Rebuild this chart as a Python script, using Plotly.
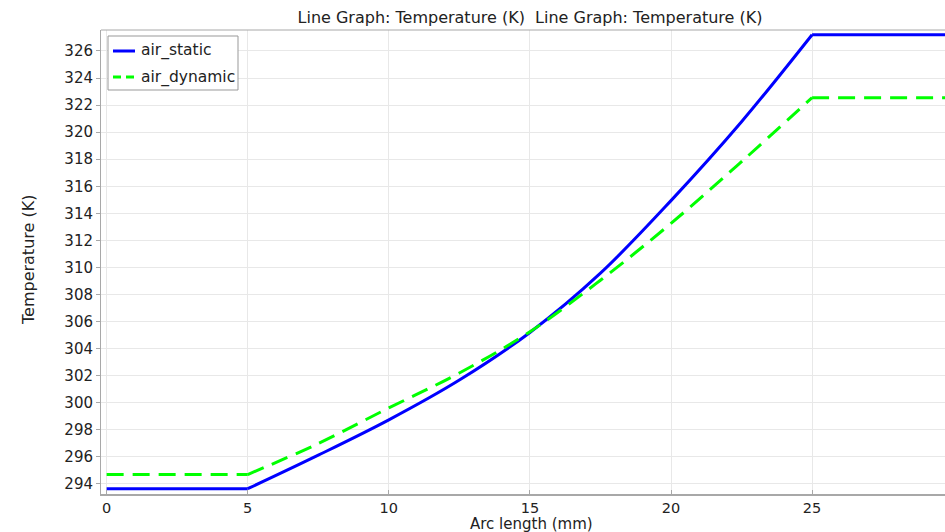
import plotly.graph_objects as go

# Arc length positions (mm) and temperatures (K) along the line
arc_mm = [0, 5, 7.5, 10, 12.5, 15, 17.5, 20, 22.5, 25, 29.71]
air_static = [293.65, 293.65, 296.13, 298.74, 301.68, 305.2, 309.58, 314.94, 320.77, 327.2, 327.2]
air_dynamic = [294.7, 294.7, 296.99, 299.62, 302.2, 305.25, 309.06, 313.26, 317.82, 322.55, 322.55]

series_names = ["air_static", "air_dynamic"]
series_colors = ["#0000FF", "#00FF00"]
series_dash = ["solid", "17px,9px"]

x_ticks = [0, 5, 10, 15, 20, 25]
y_ticks = list(range(294, 327, 2))

FONT = "DejaVu Sans"
TXT = "#222222"

# plotting frame in pixels (used to place the frame-relative decorations)
L, R, T, B = 101, 945, 30, 494
PW, PH = R - L, B - T


def px(xp):
    return (xp - L) / PW


def py(yp):
    return (B - yp) / PH


fig = go.Figure()
for name, ys, col, dash in zip(series_names, [air_static, air_dynamic], series_colors, series_dash):
    # heated section: smooth curve through the readings from 5 mm to 25 mm
    fig.add_trace(go.Scatter(
        x=arc_mm[1:-1], y=ys[1:-1], mode="lines", name=name, showlegend=False,
        line=dict(color=col, width=3, dash=dash, shape="spline", smoothing=1.0),
    ))
    # constant sections before and after
    fig.add_trace(go.Scatter(
        x=[arc_mm[0], arc_mm[1], None, arc_mm[-2], arc_mm[-1]],
        y=[ys[0], ys[1], None, ys[-2], ys[-1]],
        mode="lines", name=name, showlegend=False,
        line=dict(color=col, width=3, dash=dash),
    ))

fig.update_layout(
    width=945, height=532,
    margin=dict(l=L, r=945 - R, t=T, b=532 - B),
    paper_bgcolor="white", plot_bgcolor="white",
    font=dict(family=FONT, size=15, color=TXT),
    title=dict(
        text="Line Graph: Temperature (K)  Line Graph: Temperature (K)",
        x=530 / 945, xanchor="center", y=1 - 17 / 532, yanchor="middle",
        font=dict(family=FONT, size=16, color=TXT),
    ),
    showlegend=False,
)

fig.update_xaxes(
    range=[-0.2, 29.71], tickvals=x_ticks, ticktext=[str(v) for v in x_ticks],
    showgrid=True, gridcolor="#E8E8E8", gridwidth=1,
    showline=True, linecolor="#A8A8A8", linewidth=2,
    ticks="inside", ticklen=4, tickcolor="#A8A8A8",
    zeroline=False,
    tickfont=dict(family=FONT, size=14.5, color=TXT),
)
fig.update_yaxes(
    range=[293.26, 327.55], tickvals=y_ticks, ticktext=[str(v) for v in y_ticks],
    showgrid=True, gridcolor="#E8E8E8", gridwidth=1,
    showline=True, linecolor="#A8A8A8", linewidth=1,
    ticks="outside", ticklen=4, tickcolor="#A8A8A8",
    zeroline=False,
    tickfont=dict(family=FONT, size=15, color=TXT),
)

# top border of the plotting frame
fig.add_shape(type="line", xref="paper", yref="paper", x0=0, x1=1, y0=1, y1=1,
              line=dict(color="#A8A8A8", width=1))

# axis titles
fig.add_annotation(text="Arc length (mm)", xref="paper", yref="paper",
                   x=px(531), y=py(524), xanchor="center", yanchor="middle",
                   showarrow=False, font=dict(family=FONT, size=15, color=TXT))
fig.add_annotation(text="Temperature (K)", xref="paper", yref="paper",
                   x=px(28), y=py(260), xanchor="center", yanchor="middle",
                   textangle=-90, showarrow=False,
                   font=dict(family=FONT, size=16, color=TXT))

# legend box
fig.add_shape(type="rect", xref="paper", yref="paper",
              x0=px(108), x1=px(238), y0=py(90), y1=py(36),
              line=dict(color="#999999", width=1), fillcolor="white", layer="above")
legend_rows = [51, 77]
for name, col, dash, yrow in zip(series_names, series_colors, ["solid", "8px,5px"], legend_rows):
    fig.add_shape(type="line", xref="paper", yref="paper",
                  x0=px(113), x1=px(135), y0=py(yrow), y1=py(yrow),
                  line=dict(color=col, width=3, dash=dash), layer="above")
    fig.add_annotation(text=name, xref="paper", yref="paper",
                       x=px(139), y=py(yrow), xanchor="left", yanchor="middle",
                       showarrow=False, font=dict(family=FONT, size=15.5, color=TXT))

fig.write_html("out.html")
